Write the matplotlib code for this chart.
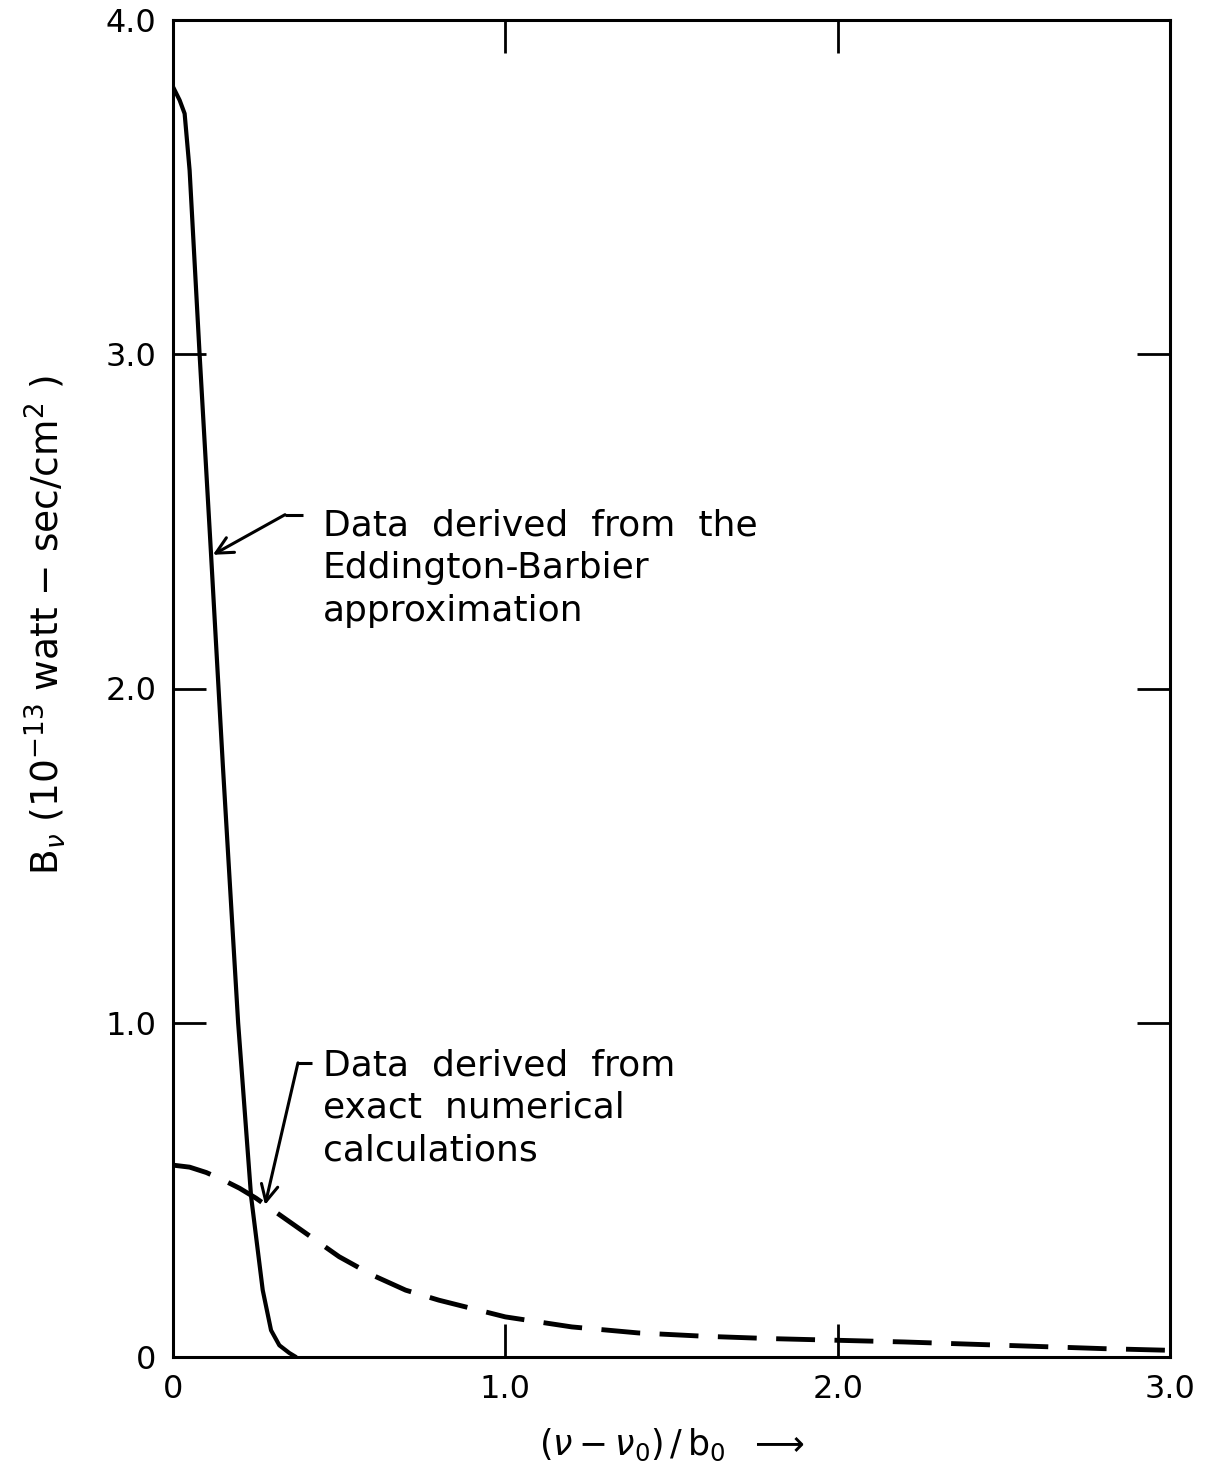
import matplotlib
matplotlib.use("Agg")
import matplotlib.pyplot as plt

# Eddington-Barbier approximation (solid)
eb_x = [0.0, 0.02, 0.035, 0.05, 0.08, 0.114, 0.15, 0.178, 0.196, 0.235, 0.27, 0.295, 0.32, 0.35, 0.37]
eb_y = [3.80, 3.76, 3.72, 3.55, 3.00, 2.41, 1.77, 1.30, 1.00, 0.48, 0.20, 0.08, 0.035, 0.012, 0.0]

# Exact numerical calculations (dashed)
ex_x = [0.0, 0.05, 0.1, 0.15, 0.2, 0.25, 0.3, 0.4, 0.5, 0.6, 0.7, 0.8, 0.9, 1.0, 1.2, 1.4, 1.6, 1.8,
        2.0, 2.2, 2.5, 2.8, 3.0]
ex_y = [0.574, 0.568, 0.552, 0.53, 0.505, 0.475, 0.44, 0.37, 0.30, 0.245, 0.20, 0.17, 0.145, 0.12,
        0.09, 0.072, 0.062, 0.055, 0.05, 0.045, 0.035, 0.025, 0.02]

xticks = [0, 1, 2, 3]
xticklabels = ["0", "1.0", "2.0", "3.0"]
yticks = [0, 1, 2, 3, 4]
yticklabels = ["0", "1.0", "2.0", "3.0", "4.0"]

fig = plt.figure(figsize=(12.09, 14.72), dpi=100)
ax = fig.add_axes([173/1209, 1 - 1357/1472, (1170-173)/1209, (1357-20)/1472])

ax.plot(eb_x, eb_y, color="black", lw=3.0, solid_capstyle="round", solid_joinstyle="round")
ax.plot(ex_x, ex_y, color="black", lw=3.5, dashes=(8, 4))

ax.set_xlim(0, 3)
ax.set_ylim(0, 4)
ax.set_xticks(xticks)
ax.set_xticklabels(xticklabels)
ax.set_yticks(yticks)
ax.set_yticklabels(yticklabels)
for s in ax.spines.values():
    s.set_linewidth(2.2)
ax.tick_params(direction="in", length=24, width=2.0, top=True, right=True,
               labelsize=23, pad=12)

ax.set_xlabel(r"$(\nu-\nu_0)\,/\,\mathrm{b}_0$  $\longrightarrow$", fontsize=25, va="center")
ax.xaxis.set_label_coords(0.50, -0.066)
ax.set_ylabel(r"B$_\nu$ (10$^{-13}$ watt $-$ sec/cm$^2$ )", fontsize=27, va="center")
ax.yaxis.set_label_coords(-0.128, 0.547)

# annotations
ax.text(0.451, 2.36, "Data  derived  from  the\nEddington-Barbier\napproximation",
        fontsize=26, va="center", ha="left", linespacing=1.33)
ax.annotate("", xy=(0.12, 2.40), xytext=(0.337, 2.52),
            arrowprops=dict(arrowstyle="->", lw=2.2, color="black", mutation_scale=30,
                            shrinkA=0, shrinkB=0))
ax.plot([0.337, 0.391], [2.52, 2.52], color="black", lw=2.2, solid_capstyle="butt")

ax.text(0.451, 0.745, "Data  derived  from\nexact  numerical\ncalculations",
        fontsize=26, va="center", ha="left", linespacing=1.33)
ax.annotate("", xy=(0.277, 0.455), xytext=(0.376, 0.88),
            arrowprops=dict(arrowstyle="->", lw=2.2, color="black", mutation_scale=30,
                            shrinkA=0, shrinkB=0))
ax.plot([0.376, 0.418], [0.88, 0.88], color="black", lw=2.2, solid_capstyle="butt")

fig.savefig("out.png", dpi=100)
